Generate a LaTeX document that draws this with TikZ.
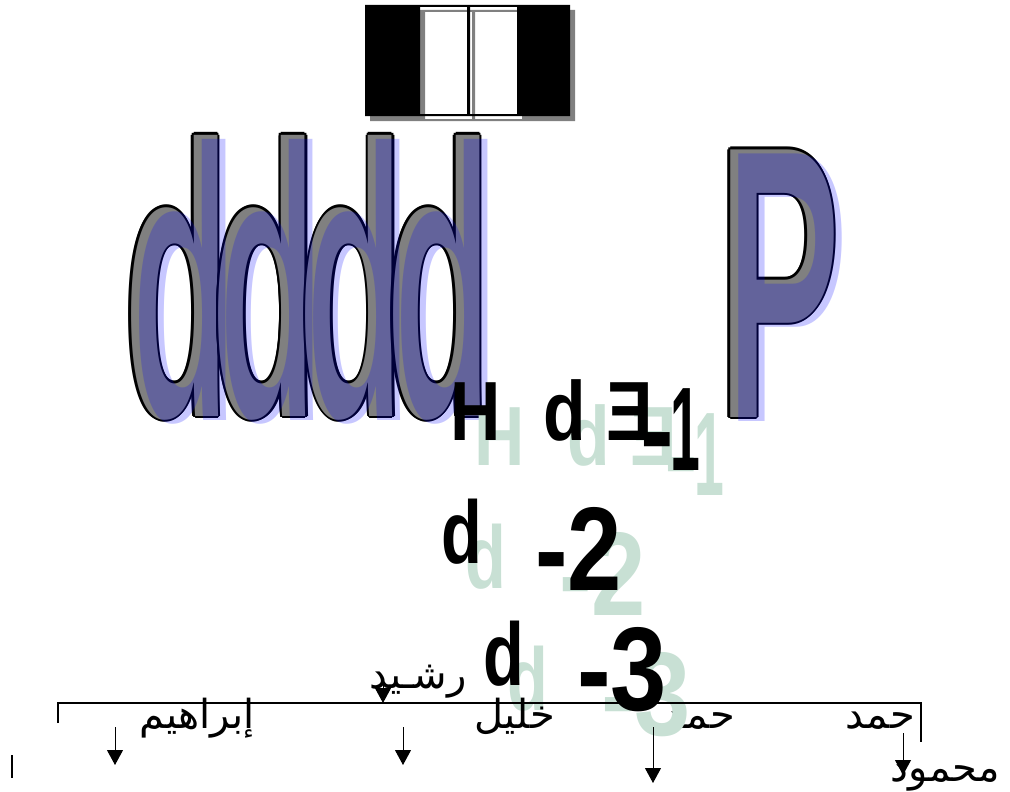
\documentclass[tikz,border=0pt]{standalone}
\usepackage{fontspec}
\usepackage{graphicx}
\setmainfont{Liberation Sans}
\newfontfamily\arabicfont[Script=Arabic]{DejaVu Sans}
\TeXXeTstate=1
\usetikzlibrary{calc,arrows.meta}
\definecolor{mint}{RGB}{200,224,212}
\definecolor{slot}{RGB}{128,128,128}

\begin{document}
\begin{tikzpicture}[x=1pt,y=-1pt,
	letter/.style={inner sep=0pt, anchor=base west, font=\fontsize{\fs}{\fs}\selectfont\bfseries},
	person/.style={inner sep=0pt, anchor=base east, font=\arabicfont\fontsize{40}{44}\selectfont},
	branch/.style={line width=1.5pt},
	child/.style={line width=1pt, -{Triangle[length=15pt,width=16pt]}}
	]
	\useasboundingbox (0,0) rectangle (1010,792);
	% block with two slots
	\fill[slot, even odd rule, shift={(5,5)}] (365,5) rectangle (570,116)
		(420,7) rectangle (467,114) (470,7) rectangle (517,114);
	\fill[black, even odd rule] (365,5) rectangle (570,116)
		(420,7) rectangle (467,114) (470,7) rectangle (517,114);
	% outlined letters
	\foreach \n/\x/\y/\fs/\sc/\t in {d0/124/416/388/0.445/d, d1/211.3/416/388/0.445/d,
		d2/298.6/416/388/0.445/d, d3/385.9/416/388/0.445/d, p/718/417/389/0.47/P}
	{
		\foreach \a in {0,45,...,315}
			\node[letter, text=black] (\n-o\a) at ($(\x,\y)+(\a:2.5)$) {\scalebox{\sc}[1]{\t}};
		\node[letter, text=slot] (\n) at (\x,\y) {\scalebox{\sc}[1]{\t}};
	}
	\foreach \n/\x/\y/\fs/\sc/\t in {d0/124/416/388/0.445/d, d1/211.3/416/388/0.445/d,
		d2/298.6/416/388/0.445/d, d3/385.9/416/388/0.445/d, p/718/417/389/0.47/P}
		\node[letter, text=blue, text opacity=0.22] (\n-shade) at (\x+8,\y+4) {\scalebox{\sc}[1]{\t}};
	% family tree names (under the shadows)
	\node[person] (rashid) at (467,688) {\beginR رشـيد\endR};
	\node[person] (ibrahim) at (255,728) {\beginR إبراهيم\endR};
	\node[person] (hamad1) at (735,728) {\beginR حمد\endR};
	\node[person] (hamad2) at (915,728) {\beginR حمد\endR};
	\node[person] (mahmud) at (1000,781) {\beginR محمود\endR};
	% bold lines with shadow
	\foreach \n/\x/\y/\fs/\sc/\t in {h/450/440/84/0.83/H, da/543/440/84/0.83/d,
		e/606/440/84/0.83/Ǝ, m1/640/470/119/0.85/-, one/670/470/119/0.45/1,
		db/441/563/89/0.75/d, m2/535/590/119/0.82/-2,
		dc/483/685/89/0.75/d, m3/577/710/119/0.85/-3}
	{
		\node[letter, text=mint] (\n-shade) at (\x+24,\y+25) {\scalebox{\sc}[1]{\t}};
		\node[letter] (\n) at (\x,\y) {\scalebox{\sc}[1]{\t}};
	}
	\node[person] (khalil) at (555,728) {\beginR خليل\endR};
	% family tree lines
	\coordinate (lt) at (58,723);
	\coordinate (l) at (58,703);
	\coordinate (r) at (921,703);
	\coordinate (rt) at (921,742);
	\draw[branch] (lt) -- (l) -- (r) -- (rt);
	\foreach \n/\x/\ya/\yb in {rashid/383/683/703, ibrahim/115/727/765,
		khalil/403/727/765, hamad1/653/727/783, hamad2/903/733/775}
	{
		\coordinate (\n-top) at (\x,\ya);
		\coordinate (\n-end) at (\x,\yb);
		\draw[child] (\n-top) -- (\n-end);
	}
	\coordinate (bar-a) at (12,755);
	\coordinate (bar-b) at (12,778);
	\draw[line width=1.5pt] (bar-a) -- (bar-b);
\end{tikzpicture}
\end{document}
